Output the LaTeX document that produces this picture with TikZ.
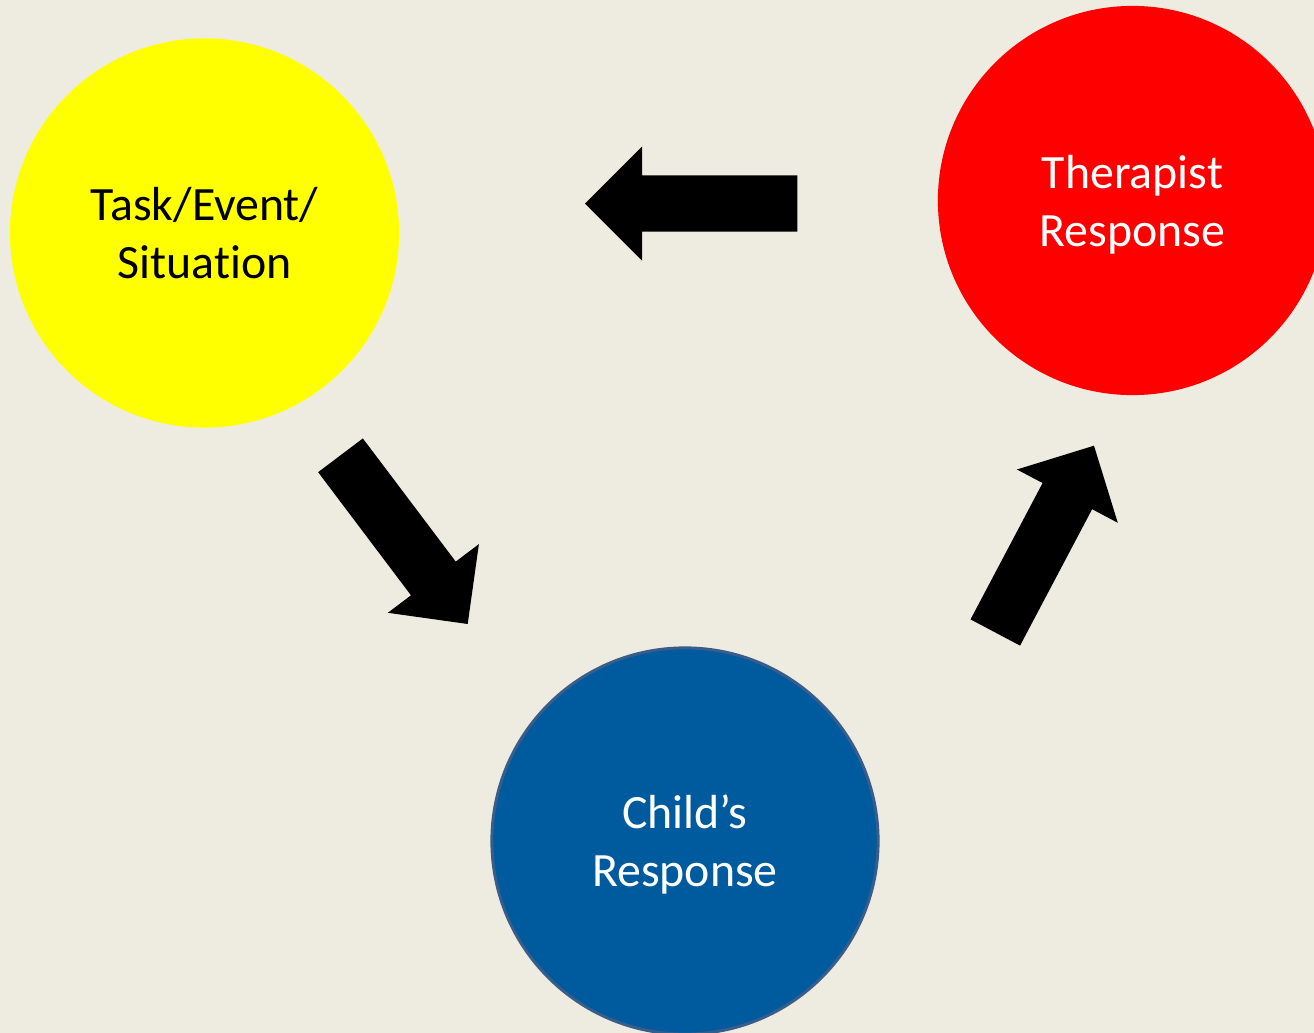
\documentclass[tikz,border=0pt]{standalone}
\usepackage{fontspec}
\setmainfont{Carlito}[Ligatures=NoCommon]
\usepackage{tikz}
\usetikzlibrary{calc}
\definecolor{slidebg}{HTML}{EEECE1}
\definecolor{taskyellow}{HTML}{FFFF00}
\definecolor{therapistred}{HTML}{FF0000}
\definecolor{childblue}{HTML}{005A9E}
\definecolor{childedge}{HTML}{385D8A}
\tikzset{blob/.style={shape=circle,draw=none,minimum size=3.89cm,inner sep=0pt,align=center,text depth=0pt,font=\fontsize{13.6}{16.5}\selectfont}}
\newcommand{\blockarrow}[2]{
  \coordinate (#1-base) at ($(#2)!0.57cm!(#1)$);
  \fill[black] ($(#1)!0.28cm!90:(#2)$) -- ($(#1-base)!0.28cm!90:(#2)$) -- ($(#1-base)!0.57cm!90:(#2)$) -- (#2)
    -- ($(#1-base)!0.57cm!-90:(#2)$) -- ($(#1-base)!0.28cm!-90:(#2)$) -- ($(#1)!0.28cm!-90:(#2)$) -- cycle;}

\begin{document}
\begin{tikzpicture}[x=0.01cm,y=-0.01cm]
            \clip (0,0) rectangle (1314,1033);
            \fill[slidebg] (0,0) rectangle (1314,1033);

            % circles
            \node[blob,fill=taskyellow,text=black] (task) at (204.5,233) {Task/Event/\\Situation};
            \node[blob,fill=therapistred,text=white] (therapist) at (1132.5,200.5) {Therapist\\Response};
            \node[blob,fill=childblue,draw=childedge,line width=0.03cm,text=white,minimum size=3.86cm] (child) at (685,841) {Child’s\\Response};

            % arrows
            \coordinate (tail1) at (340.5,455.3);
            \coordinate (tip1) at (467.7,624);
            \blockarrow{tail1}{tip1}

            \coordinate (tail2) at (995.3,632.5);
            \coordinate (tip2) at (1094,445.7);
            \blockarrow{tail2}{tip2}

            \coordinate (tail3) at (797.3,203.5);
            \coordinate (tip3) at (585,203.5);
            \blockarrow{tail3}{tip3}
        \end{tikzpicture}
\end{document}
